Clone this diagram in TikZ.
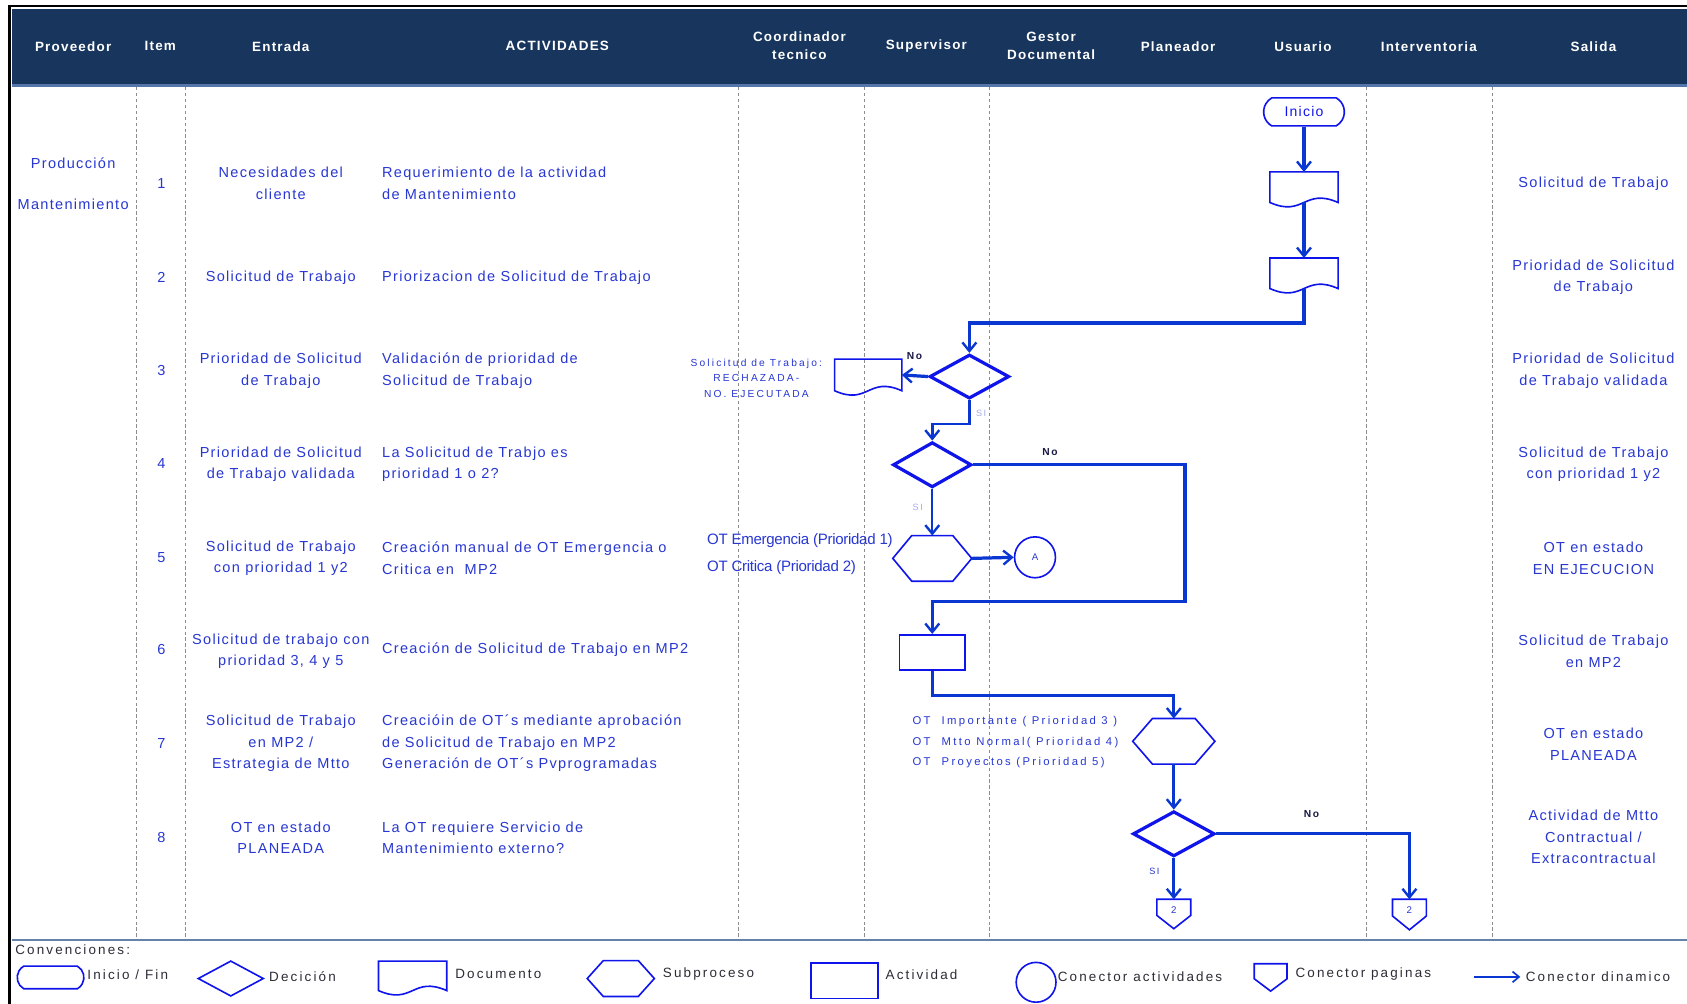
\documentclass[tikz,border=0pt]{standalone}
\usepackage{fontspec}
\setmainfont{Liberation Sans}
\newfontfamily\bodyfam[LetterSpace=9]{Liberation Sans}
\newfontfamily\widefam[LetterSpace=16]{Liberation Sans}
\newfontfamily\spreadfam[LetterSpace=21]{Liberation Sans}
\newfontfamily\condfam[LetterSpace=-2]{Liberation Sans}
\usetikzlibrary{shapes.geometric,shapes.misc,arrows.meta,calc}

\definecolor{hdr}{RGB}{24,54,93}
\definecolor{hdrline}{RGB}{84,118,170}
\definecolor{txtblue}{RGB}{40,55,210}
\definecolor{shp}{RGB}{15,20,235}
\definecolor{flow}{RGB}{10,55,210}
\definecolor{pale}{RGB}{165,170,235}
\definecolor{lanecol}{RGB}{140,140,140}
\definecolor{legsep}{RGB}{100,130,170}
\definecolor{legtxt}{RGB}{45,45,55}
\definecolor{nocol}{RGB}{25,25,70}

\tikzset{
  hdrtxt/.style={font=\bodyfam\bfseries\fontsize{12.5}{17}\selectfont, text=white, align=center, inner sep=0},
  celltxt/.style={font=\bodyfam\fontsize{13.5}{20}\selectfont, text=txtblue, align=center, inner sep=0},
  acttxt/.style={celltxt, align=left, anchor=west},
  smalltxt/.style={font=\spreadfam\fontsize{9.5}{14.5}\selectfont, text=txtblue, align=center, inner sep=0},
  condtxt/.style={font=\condfam\fontsize{14}{26}\selectfont, text=txtblue, align=left, anchor=west, inner sep=0},
  prtxt/.style={font=\spreadfam\fontsize{10.5}{19}\selectfont, text=txtblue, align=left, anchor=west, inner sep=0},
  legtext/.style={font=\widefam\fontsize{12.5}{14}\selectfont, text=legtxt, anchor=west, inner sep=0},
  yesno/.style={font=\widefam\bfseries\fontsize{9.5}{9.5}\selectfont, text=nocol, inner sep=0},
  sitxt/.style={font=\widefam\fontsize{8.5}{9}\selectfont, text=pale, inner sep=0},
  lane/.style={draw=lanecol, line width=0.8pt, dash pattern=on 3pt off 2.5pt},
  shapeline/.style={draw=shp, line width=1.5pt},
  flowdec/.style={diamond, draw=shp, line width=3pt, minimum width=74, minimum height=41, inner sep=0},
  docbox/.style={rectangle, inner sep=0, minimum width=63, minimum height=28},
  hexbox/.style={rectangle, inner sep=0, minimum width=74, minimum height=42},
  pagebox/.style={rectangle, inner sep=0, minimum width=31, minimum height=27, text depth=8pt,
    font=\bodyfam\fontsize{9}{9}\selectfont, text=txtblue},
  conn/.style={draw=flow, line width=3pt, -{Straight Barb[length=8pt,width=13pt,line width=2.2pt]}},
  connmid/.style={conn, line width=2.5pt},
  connthin/.style={conn, line width=2pt},
}

% outline of a document symbol with a wavy lower edge
\newcommand\docoutline[2][]{%
  \draw[shapeline,#1] (#2.south west) -- (#2.north west) -- (#2.north east) -- (#2.south east)
    .. controls ($(#2.south west)!0.5!(#2.south east)+(0,-14)$) and ($(#2.south west)!0.5!(#2.south east)+(0,14)$) .. (#2.south west) -- cycle;}
% outline of a sub-process hexagon
\newcommand\hexoutline[2][]{%
  \draw[shapeline,#1] (#2.west) -- ($(#2.north west)!.24!(#2.north east)$) -- ($(#2.north east)!.24!(#2.north west)$)
    -- (#2.east) -- ($(#2.south east)!.24!(#2.south west)$) -- ($(#2.south west)!.24!(#2.south east)$) -- cycle;}
% outline of an off-page connector
\newcommand\pageoutline[2][]{%
  \draw[shapeline,#1] (#2.north west) -- (#2.north east) -- ($(#2.north east)!.55!(#2.south east)$)
    -- (#2.south) -- ($(#2.north west)!.55!(#2.south west)$) -- cycle;}

\begin{document}
\begin{tikzpicture}[x=1pt,y=-1pt]
\useasboundingbox (0,0) rectangle (1568,933);
\fill[white] (0,0) rectangle (1568,933);

% header band and frame
\fill[hdr] (11,8) rectangle (1568,79);
\draw[hdrline, line width=2pt] (11,79.5) -- (1568,79.5);
\draw[black, line width=2.5pt] (9,933) -- (9,5.5) -- (1568,5.5);
\draw[legsep, line width=2.2pt] (11,873.5) -- (1568,873.5);

% lane dividers
\foreach \x in {127,172,686,803,920,1270,1387} \draw[lane] (\x,81) -- (\x,872);

% column titles
\node[hdrtxt] (hProv) at (68,43) {Proveedor};
\node[hdrtxt] (hItem) at (149,43) {Item};
\node[hdrtxt] (hEnt) at (261,43) {Entrada};
\node[hdrtxt] (hAct) at (518,43) {ACTIVIDADES};
\node[hdrtxt] (hCoord) at (743,42.5) {Coordinador\\tecnico};
\node[hdrtxt] (hSup) at (861,43) {Supervisor};
\node[hdrtxt] (hGest) at (977,42.5) {Gestor\\Documental};
\node[hdrtxt] (hPlan) at (1095,43) {Planeador};
\node[hdrtxt] (hUsu) at (1211,43) {Usuario};
\node[hdrtxt] (hInt) at (1328,43) {Interventoria};
\node[hdrtxt] (hSal) at (1481,43) {Salida};

% supplier
\node[celltxt] (provA) at (68,152) {Producción};
\node[celltxt] (provB) at (68,190) {Mantenimiento};

% item numbers
\foreach \n/\y in {1/171,2/258,3/344,4/431,5/518,6/604,7/691,8/778}
  \node[celltxt] (item\n) at (150,\y) {\n};

% inputs
\node[celltxt] (e1) at (261,170.5) {Necesidades del\\cliente};
\node[celltxt] (e2) at (261,258) {Solicitud de Trabajo};
\node[celltxt] (e3) at (261,344.5) {Prioridad de Solicitud\\de Trabajo};
\node[celltxt] (e4) at (261,431.5) {Prioridad de Solicitud\\de Trabajo validada};
\node[celltxt] (e5) at (261,519) {Solicitud de Trabajo\\con prioridad 1 y2};
\node[celltxt] (e6) at (261,605.5) {Solicitud de trabajo con\\prioridad 3, 4 y 5};
\node[celltxt] (e7) at (261,691) {Solicitud de Trabajo\\en MP2 /\\Estrategia de Mtto};
\node[celltxt] (e8) at (261,778.5) {OT en estado\\PLANEADA};

% activities
\node[acttxt] (a1) at (355,170.5) {Requerimiento de la actividad\\de Mantenimiento};
\node[acttxt] (a2) at (355,258) {Priorizacion de Solicitud de Trabajo};
\node[acttxt] (a3) at (355,344.5) {Validación de prioridad de\\Solicitud de Trabajo};
\node[acttxt] (a4) at (355,431.5) {La Solicitud de Trabjo es\\prioridad 1 o 2?};
\node[acttxt] (a5) at (355,519) {Creación manual de OT Emergencia o\\Critica en~~MP2};
\node[acttxt] (a6) at (355,604) {Creación de Solicitud de Trabajo en MP2};
\node[acttxt] (a7) at (355,691) {Creacióin de OT´s mediante aprobación\\de Solicitud de Trabajo en MP2\\Generación de OT´s Pvprogramadas};
\node[acttxt] (a8) at (355,778.5) {La OT requiere Servicio de\\Mantenimiento externo?};

% outputs
\node[celltxt] (s1) at (1481,171) {Solicitud de Trabajo};
\node[celltxt] (s2) at (1481,257.5) {Prioridad de Solicitud\\de Trabajo};
\node[celltxt] (s3) at (1481,344.5) {Prioridad de Solicitud\\de Trabajo validada};
\node[celltxt] (s4) at (1481,431.5) {Solicitud de Trabajo\\con prioridad 1 y2};
\node[celltxt] (s5) at (1481,519) {OT en estado\\EN EJECUCION};
\node[celltxt] (s6) at (1481,605.5) {Solicitud de Trabajo\\en MP2};
\node[celltxt] (s7) at (1481,691.5) {OT en estado\\PLANEADA};
\node[celltxt] (s8) at (1481,778) {Actividad de Mtto\\Contractual /\\Extracontractual};

% flow symbols
\node[rounded rectangle, rounded rectangle arc length=120, shapeline, minimum width=75, minimum height=26,
      inner sep=0, font=\bodyfam\fontsize{13}{13}\selectfont, text=shp] (inicio) at (1212,104) {Inicio};
\node[docbox] (sol1) at (1212,174) {}; \docoutline{sol1}
\node[docbox] (sol2) at (1212,254) {}; \docoutline{sol2}
\node[flowdec] (dec1) at (901,350) {};
\node[docbox, minimum width=62, minimum height=29] (rech) at (807,348.5) {}; \docoutline{rech}
\node[flowdec, minimum width=73, minimum height=42] (dec2) at (866.5,432) {};
\node[hexbox, minimum width=73] (sub1) at (866.5,519) {}; \hexoutline{sub1}
\node[circle, shapeline, minimum size=38, inner sep=0, font=\bodyfam\fontsize{9}{9}\selectfont, text=txtblue] (conA) at (962,518) {A};
\node[rectangle, shapeline, minimum width=61, minimum height=33, inner sep=0] (mp2) at (866.5,606.5) {};
\node[hexbox, minimum width=76] (sub2) at (1091,689) {}; \hexoutline{sub2}
\node[flowdec, minimum width=76, minimum height=42] (dec3) at (1091,775) {};
\node[pagebox] (pg1) at (1091,849.5) {2}; \pageoutline{pg1}
\node[pagebox, minimum height=28] (pg2) at (1310,850) {2}; \pageoutline{pg2}

% connectors
\draw[conn] (inicio.south) -- (sol1.north);
\draw[conn] (sol1.south) -- (sol2.north);
\draw[conn] (sol2.south) -- ++(0,32) -| (dec1.north);
\draw[conn] (dec1.west) -- (rech.east);
\draw[connmid] (dec1.south) -- ++(0,22) -| (dec2.north);
\draw[conn] (dec2.east) -- ++(197,0) -- ++(0,127) -| (mp2.north);
\draw[connthin] (dec2.south) -- (sub1.north);
\draw[conn] (sub1.east) -- (conA.west);
\draw[conn] (mp2.south) -- ++(0,23) -| (sub2.north);
\draw[conn] (sub2.south) -- (dec3.north);
\draw[conn] (dec3.east) -| (pg2.north);
\draw[conn] (dec3.south) -- (pg1.north);

% branch labels
\node[yesno] (no1) at (850,331) {No};
\node[sitxt] (si1) at (912,384) {SI};
\node[yesno] (no2) at (976,420) {No};
\node[sitxt] (si2) at (853,472) {SI};
\node[yesno] (no3) at (1219,757) {No};
\node[sitxt, text=txtblue] (si3) at (1073,810) {SI};

% notes beside the symbols
\node[smalltxt] (rechtxt) at (703,351.5) {Solicitud de Trabajo:\\RECHAZADA-\\NO. EJECUTADA};
\node[condtxt] (otemerg) at (657,515) {OT Emergencia (Prioridad 1)\\OT Critica (Prioridad 2)};
\node[prtxt] (otprio) at (848,690) {OT~~Importante ( Prioridad 3 )\\OT~~Mtto Normal( Prioridad 4)\\OT~~Proyectos (Prioridad 5)};

% conventions
\node[legtext] (lgTitle) at (14,883) {Convenciones:};
\node[rounded rectangle, rounded rectangle arc length=120, shapeline, minimum width=62, minimum height=21, inner sep=0] (lgStart) at (47,908.5) {};
\node[legtext] (lgStartT) at (81,906) {Inicio / Fin};
\node[diamond, shapeline, minimum width=61, minimum height=33, inner sep=0] (lgDec) at (214.5,909.5) {};
\node[legtext] (lgDecT) at (250,908) {Decición};
\node[docbox, minimum width=63, minimum height=27] (lgDoc) at (383.5,907) {}; \docoutline{lgDoc}
\node[legtext] (lgDocT) at (423,905) {Documento};
\node[hexbox, minimum width=62, minimum height=33] (lgSub) at (577,909.5) {}; \hexoutline{lgSub}
\node[legtext] (lgSubT) at (616,905) {Subproceso};
\node[rectangle, shapeline, minimum width=62, minimum height=33, inner sep=0] (lgAct) at (785,911.5) {};
\node[legtext] (lgActT) at (823,906) {Actividad};
\node[circle, shapeline, minimum size=37, inner sep=0] (lgCon) at (963,913) {};
\node[legtext] (lgConT) at (983,908) {Conector actividades};
\node[pagebox, minimum width=30, minimum height=25] (lgPage) at (1181,908.5) {}; \pageoutline{lgPage}
\node[legtext] (lgPageT) at (1204,905) {Conector paginas};
\coordinate (lgArrA) at (1370,908);
\coordinate (lgArrB) at (1413,908);
\draw[conn, line width=1.5pt, -{Straight Barb[length=6pt,width=10pt,line width=1.5pt]}] (lgArrA) -- (lgArrB);
\node[legtext] (lgArrT) at (1418,908) {Conector dinamico};
\end{tikzpicture}
\end{document}
